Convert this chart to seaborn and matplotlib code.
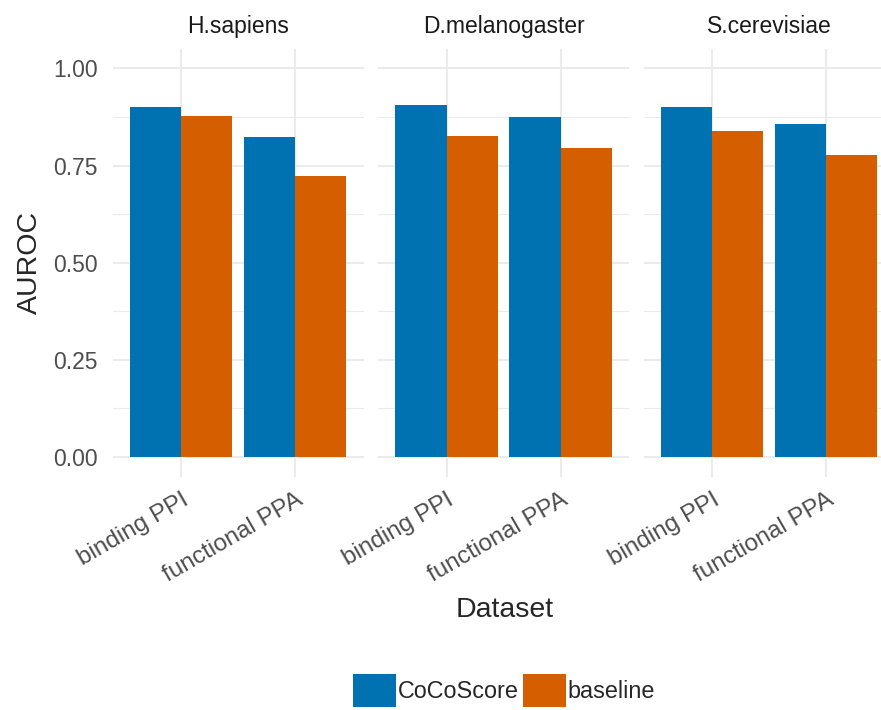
import matplotlib.pyplot as plt
from matplotlib.patches import Patch
from matplotlib.ticker import MultipleLocator
import seaborn as sns
import pandas as pd

# AUROC per species facet, dataset and method
species = ["H.sapiens", "D.melanogaster", "S.cerevisiae"]
datasets = ["binding PPI", "functional PPA"]
methods = ["CoCoScore", "baseline"]
cocoscore_auroc = [0.902, 0.823, 0.905, 0.874, 0.902, 0.856]
baseline_auroc = [0.877, 0.722, 0.825, 0.794, 0.838, 0.776]
palette = {"CoCoScore": "#0072B2", "baseline": "#D55E00"}

rows = []
for i, sp in enumerate(species):
    for j, ds in enumerate(datasets):
        rows.append((sp, ds, "CoCoScore", cocoscore_auroc[2 * i + j]))
        rows.append((sp, ds, "baseline", baseline_auroc[2 * i + j]))
df = pd.DataFrame(rows, columns=["species", "Dataset", "method", "AUROC"])

sns.set_style("white")
plt.rcParams["font.family"] = ["Liberation Sans", "DejaVu Sans"]

W, H = 881, 710
fig = plt.figure(figsize=(W / 100, H / 100), dpi=100)
lefts = [112.7, 378.2, 643.7]
pw, bottom, top = 250.8, 476.5, 49

for k, sp in enumerate(species):
    ax = fig.add_axes([lefts[k] / W, (H - bottom) / H, pw / W, (bottom - top) / H])
    sns.barplot(data=df[df["species"] == sp], x="Dataset", y="AUROC", hue="method",
                order=datasets, hue_order=methods, palette=palette, width=0.9,
                saturation=1, linewidth=0, legend=False, ax=ax)
    ax.set_xlim(-0.6, 1.6)
    ax.set_ylim(-0.05, 1.05)
    ax.yaxis.set_major_locator(MultipleLocator(0.25))
    ax.yaxis.set_minor_locator(MultipleLocator(0.125))
    ax.yaxis.set_major_formatter(lambda v, p: f"{v:.2f}")
    ax.grid(which="major", color="#EBEBEB", linewidth=1.5)
    ax.grid(which="minor", axis="y", color="#EBEBEB", linewidth=0.8)
    ax.set_axisbelow(True)
    for s in ax.spines.values():
        s.set_visible(False)
    ax.tick_params(which="both", length=0, labelsize=16.5, labelcolor="#4D4D4D")
    ax.tick_params(axis="y", pad=10.5, labelleft=(k == 0))
    ax.tick_params(axis="x", pad=9, labelsize=17.5)
    ax.set_xlabel("")
    ax.set_ylabel("")
    ax.set_title(sp, fontsize=16.5, color="#1A1A1A", pad=11.5)
    for lbl in ax.get_xticklabels():
        lbl.set_rotation(30)
        lbl.set_ha("right")
        lbl.set_va("top")
        lbl.set_rotation_mode("anchor")

fig.text(30 / W, 1 - 262.75 / H, "AUROC", rotation=90, ha="center", va="center", fontsize=20.5)
fig.text(505 / W, 1 - 616.7 / H, "Dataset", ha="center", va="baseline", fontsize=20.5)

handles = [Patch(facecolor=palette[m], edgecolor="none") for m in methods]
fig.legend(handles, methods, loc="center", bbox_to_anchor=(504 / W, (H - 690.5) / H),
           ncol=2, frameon=False, fontsize=16.8, handlelength=1.845, handleheight=1.845,
           handletextpad=0.07, columnspacing=0.17, borderpad=0, borderaxespad=0)

plt.savefig("out.png", dpi=100)
